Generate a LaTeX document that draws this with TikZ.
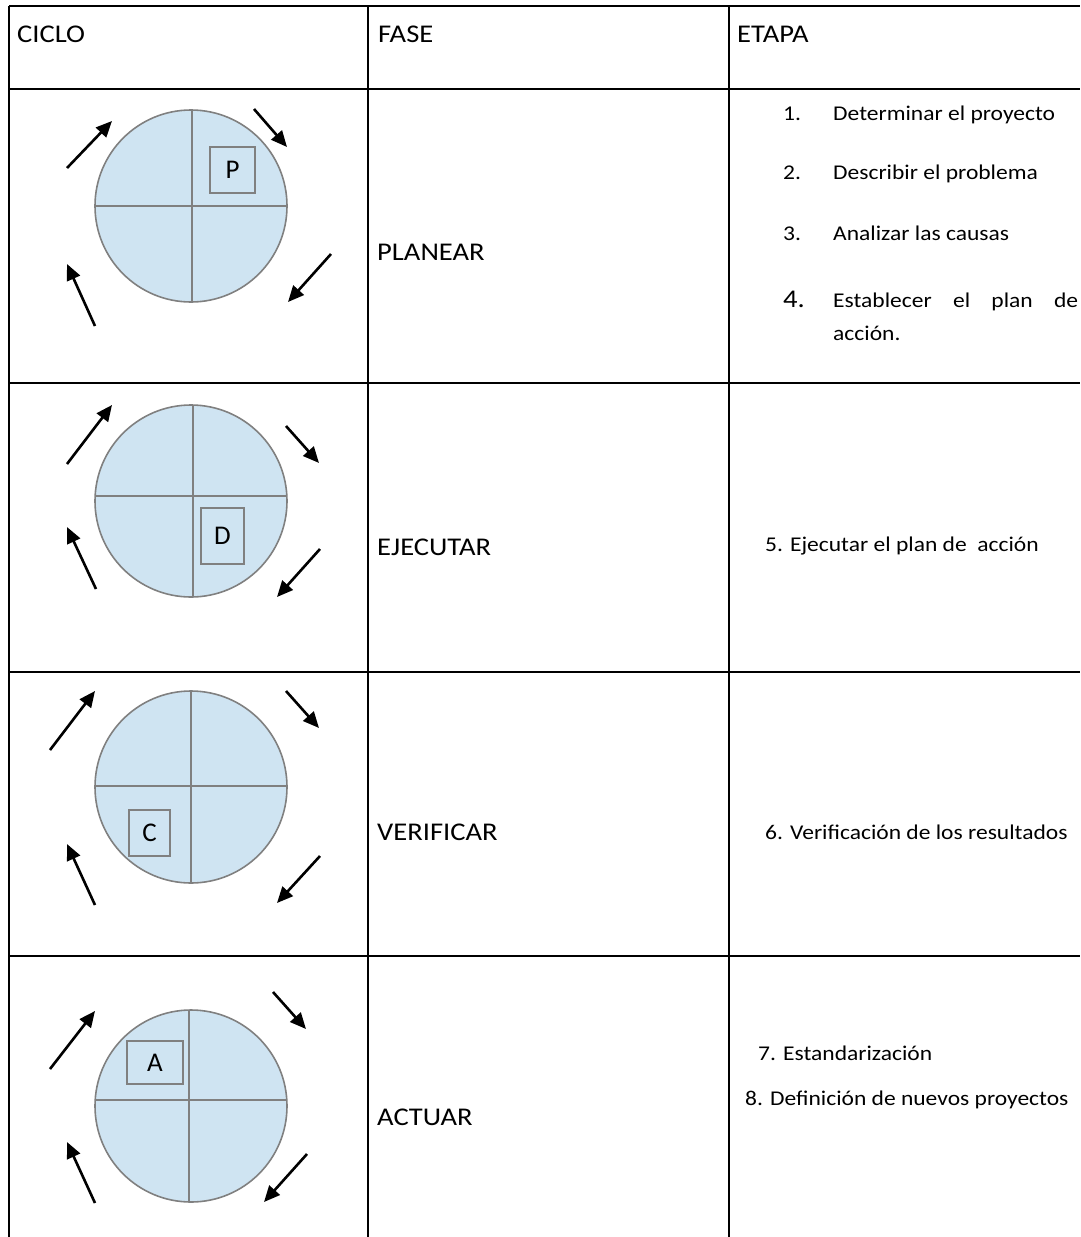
\documentclass[tikz,border=0pt]{standalone}
\usepackage{fontspec}
\setmainfont{Carlito}[FakeStretch=1.12]
\newfontfamily\letterfont{Carlito}
\usetikzlibrary{arrows.meta}

\definecolor{cellblue}{RGB}{207,228,242}
\definecolor{rimgray}{RGB}{128,128,128}

\tikzset{
  grid/.style={line width=1.6pt, draw=black},
  wheel/.style={draw=rimgray, fill=cellblue, line width=1.6pt},
  spoke/.style={draw=rimgray, line width=1.6pt},
  tag/.style={draw=rimgray, fill=cellblue, line width=1.6pt, inner sep=0pt,
    font=\letterfont\fontsize{27}{31}\selectfont},
  turn/.style={line width=2.6pt, -{Triangle[length=16pt,width=14pt]}},
  head/.style={anchor=base west, inner sep=0pt, font=\fontsize{25.5}{30}\selectfont},
  stage/.style={anchor=base west, inner sep=0pt, font=\fontsize{21}{25}\selectfont},
}

% one PDCA wheel: centre x, centre y, x of the vertical spoke, y of the horizontal spoke
\newcommand{\pdcawheel}[4]{%
  \fill[cellblue] (#1,#2) circle[radius=96];
  \begin{scope}
    \clip (#1,#2) circle[radius=96];
    \draw[spoke] (#3,#2-110) -- (#3,#2+110);
    \draw[spoke] (#1-110,#4) -- (#1+110,#4);
  \end{scope}
  \draw[wheel, fill=none] (#1,#2) circle[radius=96];
}

\begin{document}
\begin{tikzpicture}[x=1pt, y=-1pt]
  \useasboundingbox (0,0) rectangle (1080,1237);

  % table rules
  \draw[grid] (9,6) -- (1080,6);
  \draw[grid] (9,89) -- (1080,89);
  \draw[grid] (9,383) -- (1080,383);
  \draw[grid] (9,672) -- (1080,672);
  \draw[grid] (9,956) -- (1080,956);
  \draw[grid] (9,6) -- (9,1237);
  \draw[grid] (368,6) -- (368,1237);
  \draw[grid] (729,6) -- (729,1237);

  % column headings
  \node[head] (hciclo) at (17,42) {CICLO};
  \node[head] (hfase)  at (378,42) {FASE};
  \node[head] (hetapa) at (737,42) {ETAPA};

  % ---- PLANEAR ----
  \pdcawheel{191}{206}{192}{206}
  \node[tag, minimum width=45pt, minimum height=46pt] (tagp) at (232.5,170) {P};
  \draw[turn] (67,168) -- (112,121);
  \draw[turn] (254,109) -- (287,147);
  \draw[turn] (331,254) -- (288,302);
  \draw[turn] (95,326) -- (67,264);
  \node[head] (fplan) at (377,260) {PLANEAR};
  \node[stage] (n1) at (783,120) {1.};
  \node[stage] (s1) at (833,120) {Determinar el proyecto};
  \node[stage] (n2) at (783,179) {2.};
  \node[stage] (s2) at (833,179) {Describir el problema};
  \node[stage] (n3) at (783,240) {3.};
  \node[stage] (s3) at (833,240) {Analizar las causas};
  \node[head] (n4) at (783,307) {4.};
  \node[stage] (s4) at (833,307) {\makebox[245pt][s]{Establecer\hfill el\hfill plan\hfill de}};
  \node[stage] (s4b) at (833,340) {acción.};

  % ---- EJECUTAR ----
  \pdcawheel{191}{501}{193}{496}
  \node[tag, minimum width=43pt, minimum height=56pt] (tagd) at (222.5,536) {D};
  \draw[turn] (67,464) -- (112,405);
  \draw[turn] (286,426) -- (319,463);
  \draw[turn] (320,549) -- (277,597);
  \draw[turn] (96,589) -- (67,527);
  \node[head] (fejec) at (377,555) {EJECUTAR};
  \node[stage] (s5) at (765,551) {5. Ejecutar el plan de \ acción};

  % ---- VERIFICAR ----
  \pdcawheel{191}{787}{191}{786}
  \node[tag, minimum width=41pt, minimum height=46pt] (tagc) at (149.5,833) {C};
  \draw[turn] (50,750) -- (95,691);
  \draw[turn] (286,691) -- (319,728);
  \draw[turn] (320,856) -- (277,903);
  \draw[turn] (95,905) -- (67,844);
  \node[head] (fverif) at (377,840) {VERIFICAR};
  \node[stage] (s6) at (765,839) {6. Verificación de los resultados};

  % ---- ACTUAR ----
  \pdcawheel{191}{1106}{189}{1100}
  \node[tag, minimum width=56pt, minimum height=43pt] (taga) at (155,1062.5) {A};
  \draw[turn] (50,1069) -- (95,1011);
  \draw[turn] (273,992) -- (306,1029);
  \draw[turn] (307,1154) -- (264,1202);
  \draw[turn] (95,1203) -- (67,1142);
  \node[head] (fact) at (377,1125) {ACTUAR};
  \node[stage] (s7) at (758,1060) {7. Estandarización};
  \node[stage] (s8) at (745,1105) {8. Definición de nuevos proyectos};
\end{tikzpicture}
\end{document}
